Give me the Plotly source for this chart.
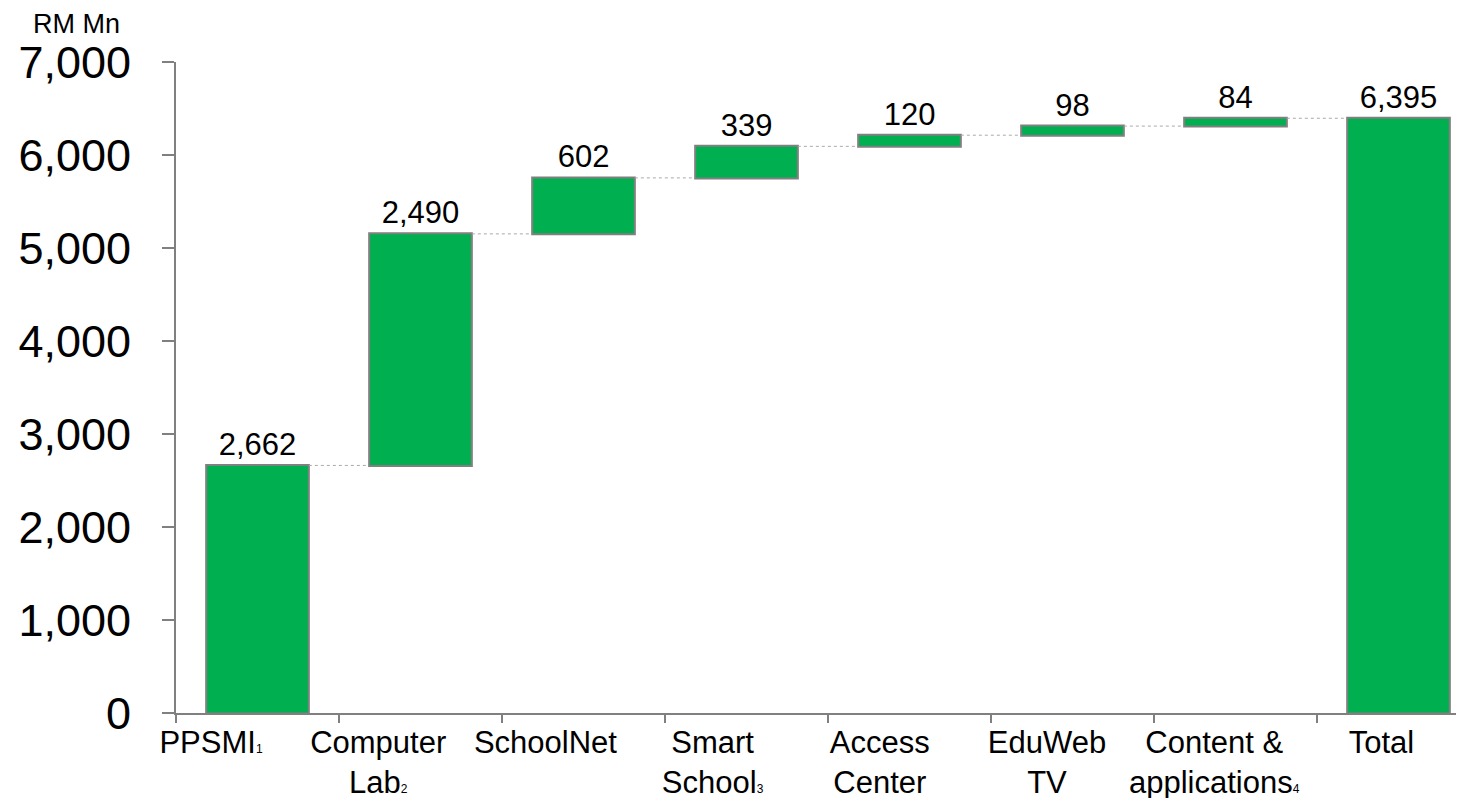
import plotly.graph_objects as go

categories = [
    "PPSMI<span style='font-size:12px'>1</span>",
    "Computer<br>Lab<span style='font-size:12px'>2</span>",
    "SchoolNet",
    "Smart<br>School<span style='font-size:12px'>3</span>",
    "Access<br>Center",
    "EduWeb<br>TV",
    "Content &<br>applications<span style='font-size:12px'>4</span>",
    "Total",
]
values = [2662, 2490, 602, 339, 120, 98, 84, 6395]
measures = ["relative"] * 7 + ["total"]
labels = ["2,662", "2,490", "602", "339", "120", "98", "84", "6,395"]
y_ticks = [0, 1000, 2000, 3000, 4000, 5000, 6000, 7000]

green = "#00B050"
grey = "#808080"
font = "Liberation Sans, Arial, sans-serif"

# page body adds an 8px offset; compensate
L, T, B = 168, 54, 93
W, H = 1464, 798
pw, ph = W - L, H - T - B
cat_px = 163.0          # spacing of bars / boundary ticks
lab_px = 167.2          # spacing of category labels (slightly wider in reference)
lab_first = 211 - 8     # centre of first label, in figure pixels

idx = list(range(len(categories)))

fig = go.Figure()
fig.add_trace(go.Waterfall(
    x=categories,
    y=values,
    measure=measures,
    text=labels,
    textposition="outside",
    textfont=dict(family=font, size=31, color="black"),
    width=0.63,
    increasing=dict(marker=dict(color=green, line=dict(color=grey, width=2))),
    decreasing=dict(marker=dict(color=green, line=dict(color=grey, width=2))),
    totals=dict(marker=dict(color=green, line=dict(color=grey, width=2))),
    connector=dict(mode="between", line=dict(color="#AAAAAA", width=1, dash="dot")),
    cliponaxis=False,
    hoverinfo="skip",
))
# empty trace so the label axis is drawn
fig.add_trace(go.Scatter(x=[None], y=[None], xaxis="x2", yaxis="y",
                         mode="markers", showlegend=False, hoverinfo="skip"))

r0 = -(lab_first - L) / lab_px
r1 = r0 + pw / lab_px

fig.update_layout(
    width=W, height=H,
    margin=dict(l=L, r=0, t=T, b=B, autoexpand=False),
    paper_bgcolor="white", plot_bgcolor="white",
    showlegend=False,
    font=dict(family=font, color="black"),
    xaxis=dict(
        range=[-0.5, -0.5 + pw / cat_px],
        automargin=False,
        showticklabels=False,
        showline=True, linecolor=grey, linewidth=2,
        ticks="outside", tickson="boundaries", ticklen=8, tickcolor=grey, tickwidth=2,
        showgrid=False, zeroline=False,
    ),
    xaxis2=dict(
        overlaying="x", side="bottom", anchor="y",
        type="linear", range=[r0, r1],
        tickmode="array", tickvals=idx, ticktext=categories,
        automargin=False, tickangle=0,
        showline=False, ticks="", showgrid=False, zeroline=False,
        tickfont=dict(family=font, size=31, color="black"),
        ticklabelstandoff=8,
    ),
    yaxis=dict(
        range=[0, 7000],
        automargin=False,
        tickvals=y_ticks,
        tickformat=",",
        showline=True, linecolor=grey, linewidth=2,
        ticks="outside", ticklen=12, tickcolor=grey, tickwidth=2,
        tickfont=dict(family=font, size=45, color="black"),
        showgrid=False, zeroline=False,
        ticklabelstandoff=22,
    ),
    annotations=[dict(
        text="RM Mn", xref="paper", yref="paper",
        x=(69 - L) / pw, y=1 + (T - 16) / ph,
        xanchor="center", yanchor="middle",
        showarrow=False, font=dict(family=font, size=27, color="black"),
    )],
)

fig.write_html("out.html")
